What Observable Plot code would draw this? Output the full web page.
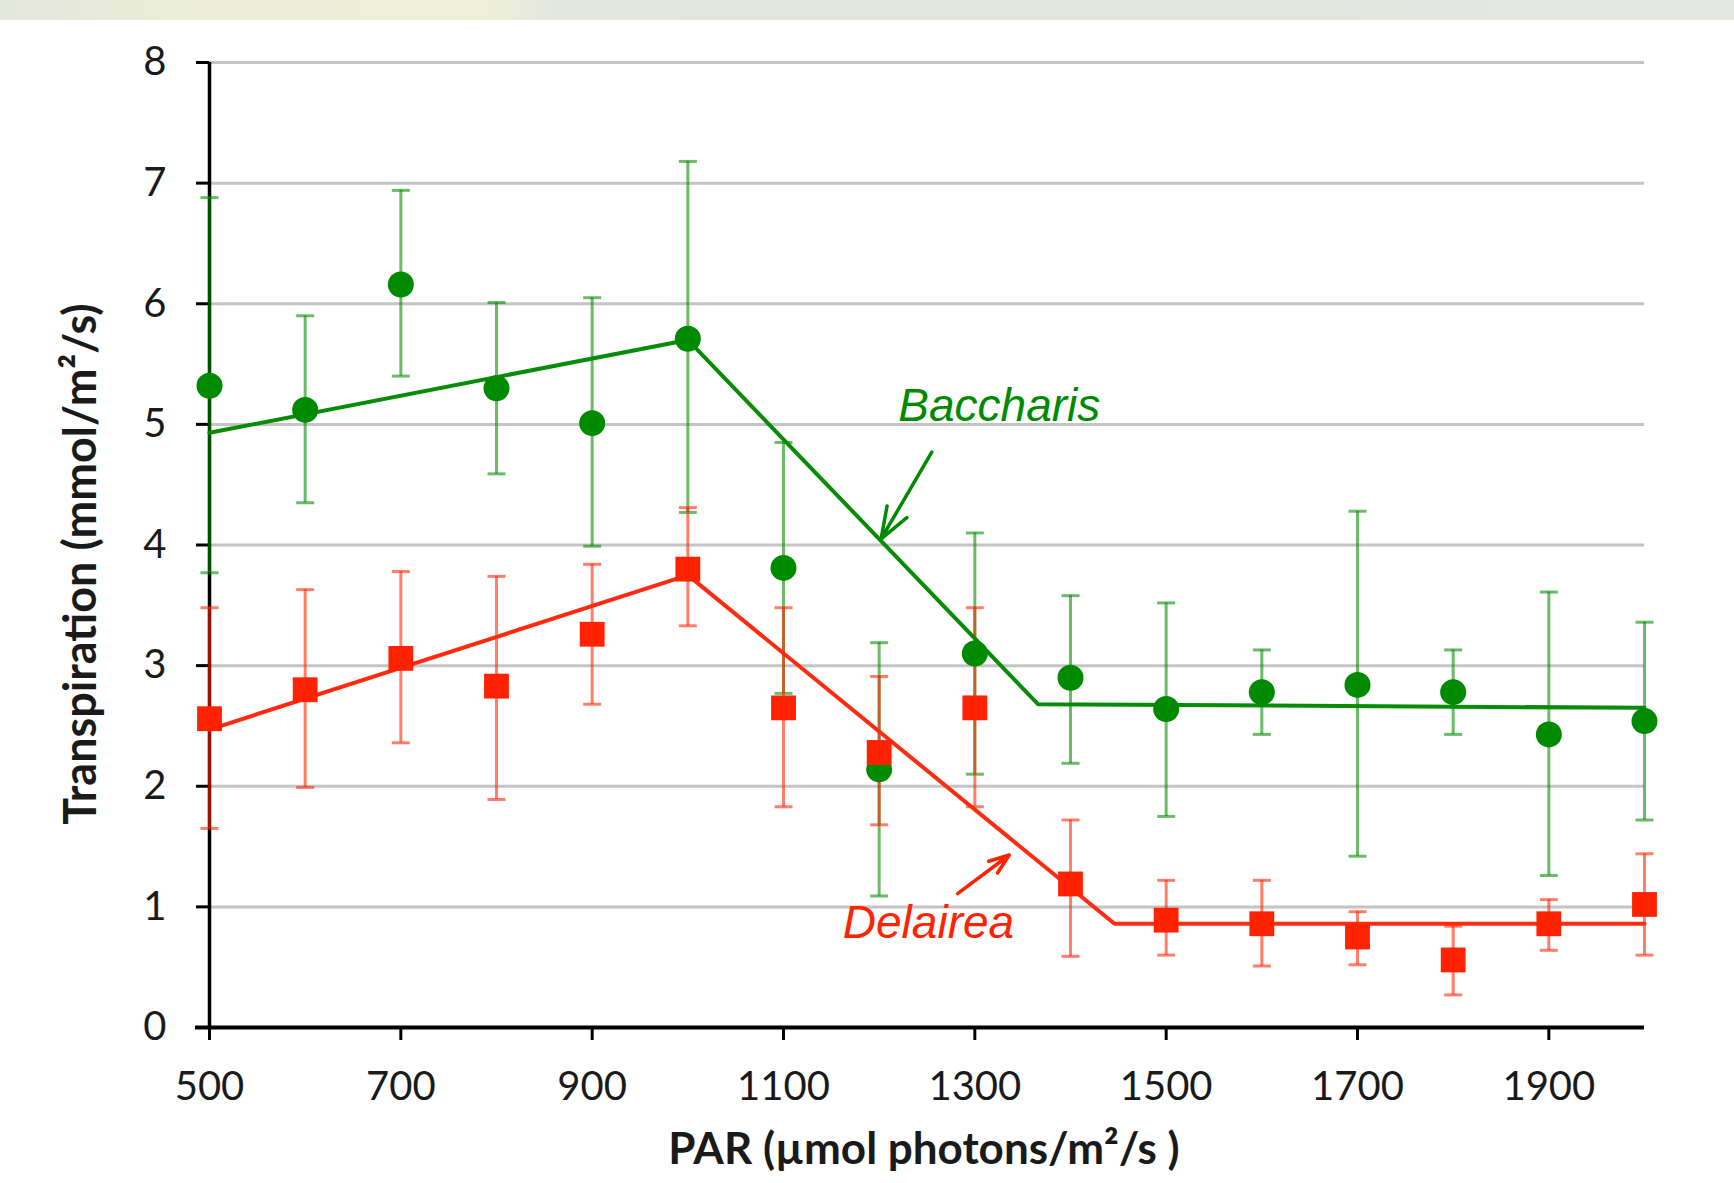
<!DOCTYPE html>
<html>
<head>
<meta charset="utf-8">
<script src="https://cdn.jsdelivr.net/npm/d3@7"></script>
<script src="https://cdn.jsdelivr.net/npm/@observablehq/plot@0.6"></script>
<style>
  html, body { margin: 0; padding: 0; background: #fff; }
  #wrap { position: relative; width: 1734px; height: 1183px; }
  #band { position: absolute; left: 0; top: 0; width: 1734px; height: 20px;
    background: linear-gradient(90deg, #e4e7dc 0%, #eceed9 12%, #eef0d6 28%, #e3e7df 32%, #e2e6df 70%, #e6e9e3 100%); }
  g[aria-label="markers"] > * { filter: drop-shadow(2px 2px 1.5px rgba(0,0,0,0.3)); }
</style>
</head>
<body>
<div id="wrap"><div id="band"></div><div id="chart"></div></div>
<script>
// ---- data ----
const par = [500, 600, 700, 800, 900, 1000, 1100, 1200, 1300, 1400, 1500, 1600, 1700, 1800, 1900, 2000];

const baccharisMean = [5.32, 5.12, 6.16, 5.30, 5.01, 5.71, 3.81, 2.14, 3.10, 2.90, 2.64, 2.78, 2.84, 2.78, 2.43, 2.54];
const baccharisHigh = [6.88, 5.90, 6.94, 6.01, 6.05, 7.18, 4.85, 3.19, 4.10, 3.58, 3.52, 3.13, 4.28, 3.13, 3.61, 3.36];
const baccharisLow  = [3.77, 4.35, 5.40, 4.59, 3.99, 4.27, 2.77, 1.09, 2.10, 2.19, 1.75, 2.43, 1.42, 2.43, 1.26, 1.72];

const delaireaMean = [2.56, 2.80, 3.06, 2.83, 3.26, 3.80, 2.65, 2.28, 2.65, 1.19, 0.89, 0.86, 0.75, 0.56, 0.86, 1.02];
const delaireaHigh = [3.48, 3.63, 3.78, 3.74, 3.84, 4.31, 3.48, 2.91, 3.48, 1.72, 1.22, 1.22, 0.96, 0.84, 1.06, 1.44];
const delaireaLow  = [1.65, 1.99, 2.36, 1.89, 2.68, 3.33, 1.83, 1.68, 1.83, 0.59, 0.60, 0.51, 0.52, 0.27, 0.64, 0.60];

// piecewise fitted lines
const baccharisFitX = [500, 1000, 1366, 2000];
const baccharisFitY = [4.93, 5.70, 2.68, 2.65];
const delaireaFitX = [500, 1000, 1446, 2000];
const delaireaFitY = [2.47, 3.75, 0.86, 0.86];

// tick values
const xTicks = [500, 700, 900, 1100, 1300, 1500, 1700, 1900];
const yTicks = [0, 1, 2, 3, 4, 5, 6, 7, 8];
const gridTicks = [1, 2, 3, 4, 5, 6, 7, 8];

// annotations (data coordinates)
const labelNames = ["Baccharis", "Delairea"];
const labelX = [1220, 1162];
const labelY = [5.15, 0.86];
const arrowX1 = [1255, 1282];
const arrowY1 = [4.77, 1.11];
const arrowX2 = [1202, 1336];
const arrowY2 = [4.05, 1.43];

const xTitle = "PAR (µmol photons/m²/s )";
const yTitle = "Transpiration (mmol/m²/s)";

// ---- build tables ----
const green = "#008a00";
const red = "#ff2200";
const bRows = par.map((p, i) => ({par: p, mean: baccharisMean[i], lo: baccharisLow[i], hi: baccharisHigh[i]}));
const dRows = par.map((p, i) => ({par: p, mean: delaireaMean[i], lo: delaireaLow[i], hi: delaireaHigh[i]}));
const bFit = baccharisFitX.map((x, i) => ({x, y: baccharisFitY[i]}));
const dFit = delaireaFitX.map((x, i) => ({x, y: delaireaFitY[i]}));
const labels = labelNames.map((name, i) => ({name, x: labelX[i], y: labelY[i], color: i === 0 ? green : red}));
const arrows = labelNames.map((name, i) => ({x1: arrowX1[i], y1: arrowY1[i], x2: arrowX2[i], y2: arrowY2[i], color: i === 0 ? green : red}));

const cap = {draw(ctx) { ctx.moveTo(-9, 0); ctx.lineTo(9, 0); }};

const chart = Plot.plot({
  width: 1734,
  height: 1183,
  marginLeft: 209,
  marginRight: 90,
  marginTop: 62,
  marginBottom: 156,
  style: {fontFamily: "Lato, 'Open Sans', sans-serif", fontSize: "40px", background: "transparent", color: "#1a1a1a"},
  x: {domain: [500, 2000]},
  y: {domain: [0, 8]},
  marks: [
    Plot.gridY(gridTicks, {stroke: "#c4c4c4", strokeWidth: 3, strokeOpacity: 1}),
    Plot.axisY({ticks: yTicks, tickSize: 13, tickPadding: 30, strokeWidth: 3, stroke: "#000", fill: "#1a1a1a", fontSize: 40, label: null}),
    Plot.axisX({ticks: xTicks, tickFormat: d => String(d), tickSize: 13, tickPadding: 31, strokeWidth: 3, stroke: "#000", fill: "#1a1a1a", fontSize: 40, label: null}),
    Plot.ruleX([500], {y1: 0, y2: 8, stroke: "#000", strokeWidth: 3.5}),
    Plot.ruleY([0], {stroke: "#000", strokeWidth: 4, insetLeft: -14}),
    // error bars
    Plot.ruleX(bRows, {x: "par", y1: "lo", y2: "hi", stroke: green, strokeWidth: 3, strokeOpacity: 0.58}),
    Plot.dot(bRows, {x: "par", y: "hi", symbol: cap, fill: "none", stroke: green, strokeWidth: 3, strokeOpacity: 0.58}),
    Plot.dot(bRows, {x: "par", y: "lo", symbol: cap, fill: "none", stroke: green, strokeWidth: 3, strokeOpacity: 0.58}),
    Plot.ruleX(dRows, {x: "par", y1: "lo", y2: "hi", stroke: red, strokeWidth: 3, strokeOpacity: 0.58}),
    Plot.dot(dRows, {x: "par", y: "hi", symbol: cap, fill: "none", stroke: red, strokeWidth: 3, strokeOpacity: 0.58}),
    Plot.dot(dRows, {x: "par", y: "lo", symbol: cap, fill: "none", stroke: red, strokeWidth: 3, strokeOpacity: 0.58}),
    // fitted lines
    Plot.line(bFit, {x: "x", y: "y", stroke: "#078c07", strokeWidth: 4}),
    Plot.line(dFit, {x: "x", y: "y", stroke: "#ff2a10", strokeWidth: 4}),
    // markers
    Plot.dot(bRows, {x: "par", y: "mean", r: 13, fill: green, stroke: "none", symbol: "circle", ariaLabel: "markers"}),
    Plot.dot(dRows, {x: "par", y: "mean", r: 14, fill: red, stroke: "none", symbol: "square", ariaLabel: "markers"}),
    // annotations
    Plot.arrow(arrows, {x1: "x1", y1: "y1", x2: "x2", y2: "y2", stroke: "color", strokeWidth: 3.5, headLength: 16, headAngle: 40}),
    Plot.text(labels, {x: "x", y: "y", text: "name", fill: "color", textAnchor: "start", fontSize: 46, fontStyle: "italic", fontFamily: "'Liberation Sans', Arial, sans-serif"}),
    // axis titles
    Plot.text([yTitle], {frameAnchor: "left", textAnchor: "middle", lineAnchor: "middle", rotate: -90, dx: -128, dy: 19, fontSize: 45, fontWeight: "bold", fill: "#1a1a1a"}),
    Plot.text([xTitle], {frameAnchor: "bottom", textAnchor: "middle", lineAnchor: "middle", dx: -3, dy: 122, fontSize: 44, fontWeight: "bold", fill: "#1a1a1a"})
  ]
});
document.getElementById("chart").appendChild(chart);
</script>
</body>
</html>
